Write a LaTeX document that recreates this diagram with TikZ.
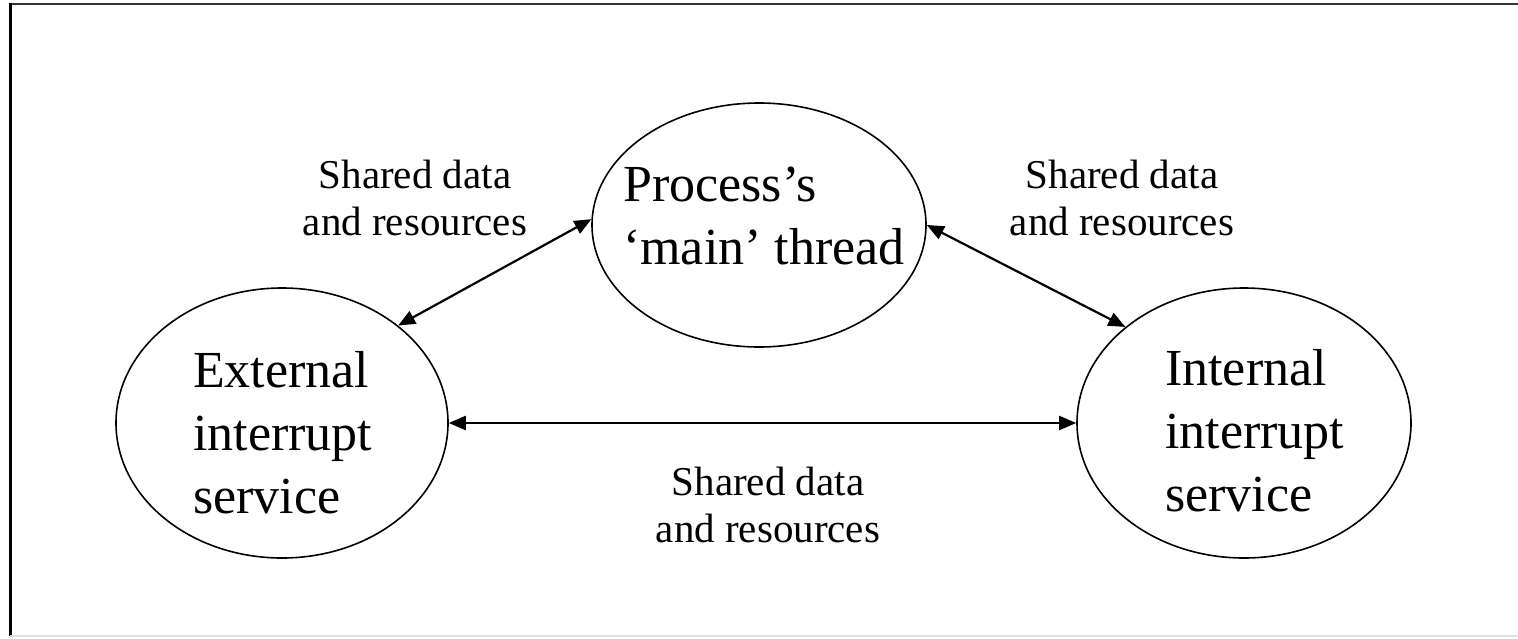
\documentclass[tikz,border=0pt]{standalone}
\usepackage{fontspec}
\setmainfont{Liberation Serif}
\usetikzlibrary{arrows.meta,shapes.geometric}
\tikzset{
  blob/.style={draw, line width=1.6pt, ellipse, inner sep=0pt},
  bigtext/.style={inner sep=0pt, align=left, anchor=north west, font=\fontsize{52}{63}\selectfont},
  smalltext/.style={inner sep=0pt, align=center, anchor=north, font=\fontsize{41}{47}\selectfont},
  link/.style={line width=2.2pt, {Triangle[length=17pt,width=14pt]}-{Triangle[length=17pt,width=14pt]}, shorten <=0pt, shorten >=0pt}
}
\begin{document}
\begin{tikzpicture}[x=1pt,y=-1pt]
\useasboundingbox (0,0) rectangle (1518,638);
% frame
\draw[line width=2pt, black!80] (10,4) -- (1518,4);
\draw[line width=3pt, black] (10,3) -- (10,636);
\draw[line width=1.5pt, black!12] (10,636) -- (1518,636);
% ellipses
\node[blob, minimum width=334pt, minimum height=244pt] (main) at (759,225) {};
\node[blob, minimum width=332pt, minimum height=270pt] (ext) at (282,423) {};
\node[blob, minimum width=334pt, minimum height=270pt] (int) at (1244,423) {};
% texts
\node[bigtext] (maintxt) at (623,167) {Process’s\\‘main’ thread};
\node[bigtext] (exttxt) at (193,351) {External\\interrupt\\service};
\node[bigtext] (inttxt) at (1165,349) {Internal\\interrupt\\service};
% labels
\node[smalltext] (lblL) at (415,160) {Shared data\\and resources};
\node[smalltext] (lblR) at (1122,160) {Shared data\\and resources};
\node[smalltext] (lblB) at (768,467) {Shared data\\and resources};
% connectors
\draw[link] (main.178) -- (ext.40);
\draw[link] (main.0) -- (int.141);
\draw[link] (ext.east) -- (int.west);
\end{tikzpicture}
\end{document}
